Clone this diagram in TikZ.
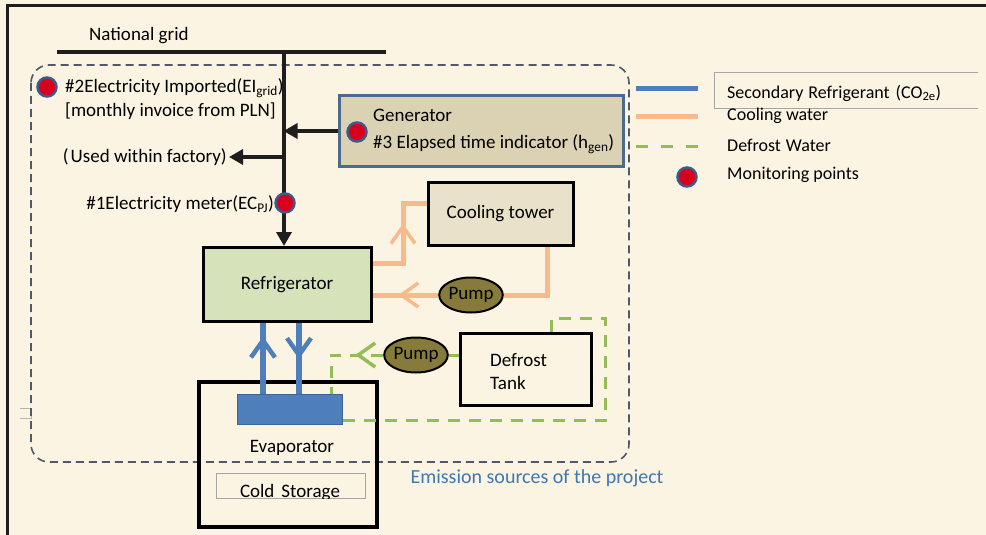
\documentclass[tikz,border=0pt]{standalone}
\usepackage{fontspec}
\setmainfont{Carlito}
\usetikzlibrary{arrows.meta,decorations.markings,shapes.geometric}

\definecolor{paper}{HTML}{FCF4E3}
\definecolor{framec}{HTML}{1E1E1E}
\definecolor{genfill}{HTML}{DBD1B3}
\definecolor{genline}{HTML}{4C6B8C}
\definecolor{towerfill}{HTML}{EAE1CA}
\definecolor{fridgefill}{HTML}{D6E2B9}
\definecolor{pumpfill}{HTML}{877B3C}
\definecolor{coolc}{HTML}{F8B98C}
\definecolor{refc}{HTML}{4F7FBA}
\definecolor{refdark}{HTML}{3C6696}
\definecolor{defc}{HTML}{94BE55}
\definecolor{boundc}{HTML}{4F5969}
\definecolor{dotred}{HTML}{D8001C}
\definecolor{dotring}{HTML}{3F5A88}
\definecolor{emisc}{HTML}{3C78B4}

\begin{document}
\begin{tikzpicture}[x=1pt,y=-1pt,
  font=\fontsize{19}{23}\selectfont,
  lbl/.style={inner sep=0pt},
  legtxt/.style={inner sep=0pt, anchor=west, font=\fontsize{18}{22}\selectfont},
  box/.style={draw=black, line width=3pt, inner sep=0pt},
  pumpbox/.style={ellipse, draw=black, line width=2pt, fill=pumpfill,
    minimum width=62pt, minimum height=35pt, inner sep=0pt},
  dot/.style={circle, fill=dotred, draw=dotring, line width=2.5pt,
    minimum size=19pt, inner sep=0pt},
  power/.style={draw=framec, line width=3.5pt},
  powerarrow/.style={power, -{Triangle[length=14pt,width=15pt]}},
  coolw/.style={draw=coolc, line width=5pt},
  refr/.style={draw=refc, line width=6pt},
  defsolid/.style={draw=defc, line width=3pt},
  defw/.style={draw=defc, line width=3pt, dash pattern=on 12pt off 9pt},
  bound/.style={draw=boundc, line width=1.6pt, dash pattern=on 8pt off 5pt,
    rounded corners=18pt},
  chev at/.style 2 args={postaction={decorate}, decoration={markings,
    mark=at position #1 with {\pgfsetdash{}{0pt}\arrow{Straight Barb[length=17pt,width=24pt,line width=#2]}}}}
]
\useasboundingbox (0,0) rectangle (986,535);
\fill[paper] (0,0) rectangle (986,535);

% frame
\draw[framec, line width=3pt] (7,535) -- (7,6) -- (986,6);
\draw[gray!60, line width=0.6pt] (20,408) -- (31,408) -- (31,418) -- (20,418);

% project boundary
\draw[bound] (31,65) rectangle (629,462);
\node[lbl, text=emisc, font=\fontsize{20}{24}\selectfont] (emis) at (537,478) {Emission sources of the project};

% equipment
\node[box, draw=genline, fill=genfill, minimum width=284pt, minimum height=70pt] (gen) at (481,131) {};
\node[lbl, anchor=west] (gent1) at (373,115) {Generator};
\node[lbl, anchor=west] (gent2) at (373,144) {\#3 Elapsed time indicator (h\textsubscript{gen})};

\node[box, fill=fridgefill, minimum width=168pt, minimum height=74pt] (fridge) at (287,284.5) {Refrigerator};
\node[box, fill=towerfill, minimum width=145pt, minimum height=63pt] (tower) at (500.5,213.5) {Cooling tower};
\node[box, minimum width=131pt, minimum height=72pt] (tank) at (525.5,369) {};
\node[lbl, anchor=west, align=left] (tanktxt) at (490,372) {Defrost\\Tank};

\node[box, line width=4pt, minimum width=178pt, minimum height=145pt] (cold) at (288,454.5) {};
\node[draw=refdark, fill=refc, line width=1pt, minimum width=105pt, minimum height=30pt, inner sep=0pt] (evap) at (289.5,409) {};
\node[lbl] (evaptxt) at (292,448) {Evaporator};
\node[draw=gray!70, line width=0.8pt, minimum width=149pt, minimum height=25pt, inner sep=0pt] (csbox) at (290.5,485.5) {};
\begin{scope}
  \clip (200,470) rectangle (376,498.5);
  \node[lbl, anchor=base] (cstxt) at (290,497) {Cold\hspace{7pt}Storage};
\end{scope}

\node[pumpbox] (pump1) at (471,295) {Pump};
\node[pumpbox] (pump2) at (416,355) {Pump};

% power bus
\coordinate (gridL) at (57,52);
\coordinate (gridR) at (386,52);
\coordinate (tap) at (284,52);
\node[lbl, anchor=west] (gridtxt) at (89,36) {National grid};
\node[lbl, anchor=west] (imp1) at (65,88) {\#2Electricity Imported(EI\textsubscript{grid})};
\node[lbl, anchor=west] (imp2) at (65,111) {[monthly invoice from PLN]};
\node[lbl, anchor=east] (usetxt) at (227,157) {(\kern2pt Used within factory)};
\node[lbl, anchor=east] (metertxt) at (274,204) {\#1Electricity meter(EC\textsubscript{PJ})};

\draw[power] (gridL) -- (gridR);
\draw[powerarrow] (tap) -- (tap |- fridge.north);
\draw[powerarrow, shorten >=-0.5pt] (gen.west) -- (gen.west -| tap);
\draw[powerarrow, shorten >=2pt] (tap |- usetxt.east) -- (usetxt.east);

% monitoring points
\node[dot] (dot1) at (285,203) {};
\node[dot] (dot2) at (47,87) {};
\node[dot] (dot3) at (357,132) {};

% cooling water loop
\coordinate (cs) at (403,263);
\coordinate (ct) at (403,203);
\coordinate (cr) at (547,295);
\draw[coolw, chev at={70pt}{3.5pt}] (fridge.east |- cs) -- (cs) -- (ct) -- (tower.west |- ct);
\draw[coolw] (tower.south -| cr) -- (cr) -- (pump1.east);
\draw[coolw, chev at={40pt}{3.5pt}] (pump1.west) -- (fridge.east |- pump1.west);

% secondary refrigerant
\coordinate (bu) at (263,358);
\coordinate (bd) at (299,358);
\draw[refr, chev at={57pt}{4.5pt}] (evap.north -| bu) -- (fridge.south -| bu);
\draw[refr, chev at={36pt}{4.5pt}] (fridge.south -| bd) -- (evap.north -| bd);

% defrost water
\coordinate (gd) at (331,355);
\coordinate (gl1) at (551,318);
\coordinate (gl2) at (605,420);
\draw[defsolid] (pump2.east -| tank.west) -- (pump2.east);
\draw[defw, chev at={28pt}{3.5pt}] (pump2.west) -- (gd) -- (gd |- evap.north);
\draw[defw] (tank.north -| gl1) -- (gl1) -- (gl2 |- gl1) -- (gl2) -- (evap.east |- gl2);

% legend
\coordinate (lg1a) at (636,89);  \coordinate (lg1b) at (698,89);
\coordinate (lg2a) at (636,116); \coordinate (lg2b) at (698,116);
\coordinate (lg3a) at (636,146); \coordinate (lg3b) at (698,146);
\draw[refr, line width=5pt] (lg1a) -- (lg1b);
\draw[coolw] (lg2a) -- (lg2b);
\draw[defw, dash pattern=on 12pt off 13pt] (lg3a) -- (lg3b);
\node[dot] (dotleg) at (687,177) {};
\draw[gray!70, line width=0.8pt] (978,72) -- (714,72) -- (714,108) -- (978,108);
\node[legtxt] (leg1) at (727,93) {Secondary\hspace{5pt}Refrigerant\hspace{6pt}(CO\textsubscript{2e})};
\node[legtxt] (leg2) at (727,116) {Cooling water};
\node[legtxt] (leg3) at (727,145) {Defrost\hspace{5pt}Water};
\node[legtxt] (leg4) at (727,175) {Monitoring points};
\end{tikzpicture}
\end{document}
